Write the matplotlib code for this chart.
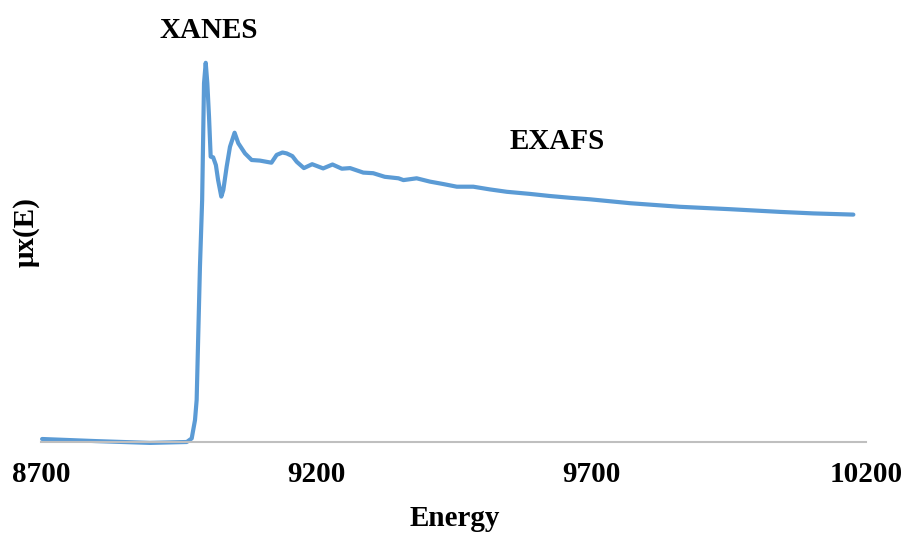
import matplotlib
matplotlib.use("Agg")
import matplotlib.pyplot as plt

# Absorption spectrum: photon energy (eV) and normalised absorption mu x(E)
energy = [8702, 8800, 8898, 8965, 8974, 8980, 8983, 8986, 8989, 8993,
          8996.4, 8999.5, 9002.4, 9005.5, 9008.5, 9013, 9018, 9022, 9027.8,
          9031.5, 9037.6, 9043.6, 9052, 9058.7, 9070.9, 9083, 9098, 9119,
          9128.5, 9139, 9146.7, 9157, 9165, 9178, 9193, 9213, 9230, 9247,
          9262, 9286, 9304, 9325, 9350, 9359, 9383, 9407, 9431, 9456, 9486,
          9516, 9547, 9589, 9625, 9662, 9698, 9771, 9862, 9953, 10044,
          10104, 10177]
mu = [0.010, 0.003, -0.003, 0.000, 0.012, 0.073, 0.140, 0.363, 0.584, 0.807,
      1.196, 1.264, 1.196, 1.084, 0.951, 0.949, 0.923, 0.873, 0.818,
      0.840, 0.918, 0.984, 1.031, 0.996, 0.962, 0.940, 0.938, 0.931,
      0.957, 0.965, 0.962, 0.953, 0.934, 0.913, 0.926, 0.912, 0.925, 0.911,
      0.913, 0.898, 0.896, 0.884, 0.879, 0.873, 0.879, 0.868, 0.860, 0.851,
      0.851, 0.842, 0.834, 0.827, 0.820, 0.814, 0.809, 0.796, 0.784, 0.776,
      0.767, 0.762, 0.758]

xticks = [8700, 9200, 9700, 10200]
region_labels = ["XANES", "EXAFS"]

W, H = 906, 533
fig = plt.figure(figsize=(W / 100, H / 100), dpi=100)
ax = fig.add_axes([41 / W, (H - 442) / H, 825 / W, 392 / H])

font = dict(family="Liberation Serif", weight="bold", size=21)

ax.plot(energy, mu, color="#5B9BD5", linewidth=3, clip_on=False,
        solid_capstyle="round", solid_joinstyle="round")

ax.set_xlim(8700, 10200)
ax.set_ylim(0, 392 / 300)
ax.set_xticks(xticks)
ax.set_xticklabels([str(t) for t in xticks], **font)
ax.set_yticks([])
ax.tick_params(axis="x", length=0, pad=14)

for side in ["top", "right", "left"]:
    ax.spines[side].set_visible(False)
ax.spines["bottom"].set_color("#BFBFBF")
ax.spines["bottom"].set_linewidth(1.5)

fig.text(455 / W, (H - 526) / H, "Energy", ha="center", va="baseline", **font)
fig.text(26 / W, 1 - 232 / H, "μx(E)", ha="center", va="center",
         rotation=90, **font)
fig.text(209 / W, (H - 38.3) / H, region_labels[0], ha="center",
         va="baseline", **font)
fig.text(557.5 / W, (H - 149.3) / H, region_labels[1], ha="center",
         va="baseline", **font)

fig.savefig("out.png", dpi=100)
